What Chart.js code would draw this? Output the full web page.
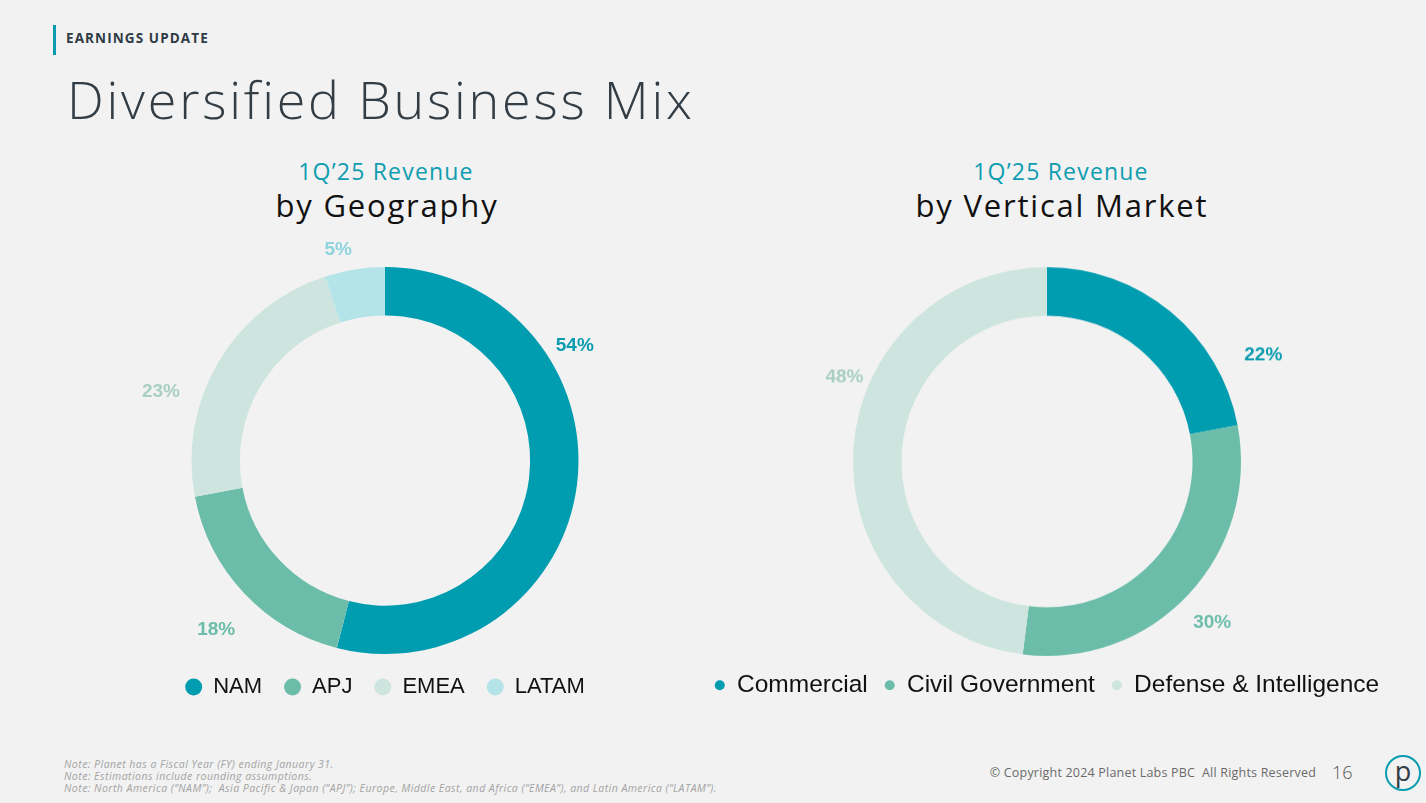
<!DOCTYPE html>
<html>
<head>
<meta charset="utf-8">
<script src="https://cdn.jsdelivr.net/npm/chart.js"></script>
<style>
  html, body { margin: 0; padding: 0; }
  body { width: 1426px; height: 803px; background: #f2f2f2; position: relative; overflow: hidden; font-family: "Open Sans", sans-serif; }
  .abs { position: absolute; white-space: nowrap; line-height: 1; }
  .bar { position: absolute; left: 53px; top: 25px; width: 3px; height: 30px; background: #0a9cb0; }
  .kicker { left: 66px; top: 32px; font-size: 13.5px; font-weight: 700; color: #2f3b45; letter-spacing: 1.1px; }
  .title { left: 67px; top: 73px; font-size: 52px; font-weight: 300; color: #333d45; letter-spacing: 2.8px; }
  .sub1 { width: 400px; text-align: center; font-size: 23px; color: #0e9db0; top: 160px; letter-spacing: 1.2px; }
  .sub2 { width: 400px; text-align: center; font-size: 31px; color: #111; top: 189.5px; letter-spacing: 1.8px; }
  .chart-box { position: absolute; }
  .notes { left: 64px; top: 758px; font-size: 10.5px; font-style: italic; color: #a3a3a3; line-height: 12px; letter-spacing: 0.46px; }
  .copy { right: 110px; top: 767px; font-size: 12.5px; color: #6a6a6a; letter-spacing: 0.2px; }
  .page { left: 1332px; top: 763px; font-size: 18px; font-weight: 300; color: #555; }
  .logo { position: absolute; left: 1385px; top: 755px; width: 32px; height: 32px; border: 2px solid #0a9cb0; border-radius: 50%; text-align: center; font-size: 27px; line-height: 28px; color: #333d45; }
</style>
</head>
<body>
<div class="bar"></div>
<div class="abs kicker">EARNINGS UPDATE</div>
<div class="abs title">Diversified Business Mix</div>

<div class="abs sub1" style="left:186px">1Q’25 Revenue</div>
<div class="abs sub2" style="left:187px">by Geography</div>
<div class="abs sub1" style="left:861px">1Q’25 Revenue</div>
<div class="abs sub2" style="left:862px">by Vertical Market</div>

<div class="chart-box" style="left:84px; top:200px; width:602px; height:508px;"><canvas id="geoChart"></canvas></div>
<div class="chart-box" style="left:697px; top:200px; width:700px; height:506.5px;"><canvas id="marketChart"></canvas></div>

<div class="abs notes">Note: Planet has a Fiscal Year (FY) ending January 31.<br>Note: Estimations include rounding assumptions.<br>Note: North America (“NAM”);&nbsp; Asia Pacific &amp; Japan (“APJ”); Europe, Middle East, and Africa (“EMEA”), and Latin America (“LATAM”).</div>
<div class="abs copy">© Copyright 2024 Planet Labs PBC&nbsp; All Rights Reserved</div>
<div class="abs page">16</div>
<div class="logo">p</div>

<script>
// data
const geoLabels = ['NAM', 'APJ', 'EMEA', 'LATAM'];
const geoValues = [54, 18, 23, 5];
const marketLabels = ['Commercial', 'Civil Government', 'Defense & Intelligence'];
const marketValues = [22, 30, 48];

const geoColors = ['#009caf', '#6bbda9', '#cde5de', '#b5e4e8'];
const geoLabelColors = ['#0a9cb0', '#6bbda9', '#a9cfc3', '#8ed3de'];
const marketColors = ['#009caf', '#6bbda9', '#cde5de'];
const marketLabelColors = ['#0a9cb0', '#6bbda9', '#a9cfc3'];

// percent labels around the ring; t = where along the slice, r = distance from centre
const sliceLabels = {
  id: 'sliceLabels',
  afterDatasetsDraw(chart, args, opts) {
    const meta = chart.getDatasetMeta(0);
    const values = chart.data.datasets[0].data;
    const ctx = chart.ctx;
    ctx.save();
    ctx.font = 'bold 19px "Liberation Sans", Arial, sans-serif';
    ctx.textAlign = 'center';
    ctx.textBaseline = 'middle';
    meta.data.forEach((arc, i) => {
      const p = opts.place[i];
      const a = arc.startAngle + (arc.endAngle - arc.startAngle) * p.t;
      ctx.fillStyle = opts.colors[i];
      ctx.fillText(values[i] + '%', arc.x + Math.cos(a) * p.r, arc.y + Math.sin(a) * p.r + 2);
    });
    ctx.restore();
  }
};

function makeDonut(id, labels, values, colors, labelColors, place, legendFont, dot, gap) {
  return new Chart(document.getElementById(id), {
    type: 'doughnut',
    data: {
      labels: labels,
      datasets: [{
        data: values,
        backgroundColor: colors,
        borderWidth: 0,
        hoverOffset: 0
      }]
    },
    options: {
      responsive: true,
      maintainAspectRatio: false,
      animation: false,
      cutout: '75%',
      layout: { padding: { top: 67 } },
      plugins: {
        legend: {
          position: 'bottom',
          labels: {
            usePointStyle: true,
            pointStyle: 'circle',
            pointStyleWidth: dot,
            boxHeight: dot * 0.707,
            padding: gap,
            color: '#111',
            font: { family: '"Liberation Sans", Arial, sans-serif', size: legendFont }
          }
        },
        tooltip: { enabled: false },
        sliceLabels: { colors: labelColors, place: place }
      }
    },
    plugins: [sliceLabels]
  });
}

makeDonut('geoChart', geoLabels, geoValues, geoColors, geoLabelColors,
  [{ t: 0.30, r: 223 }, { t: 0.475, r: 238 }, { t: 0.343, r: 235 }, { t: 0.31, r: 218 }], 22, 17, 22);

makeDonut('marketChart', marketLabels, marketValues, marketColors, marketLabelColors,
  [{ t: 0.80, r: 242 }, { t: 0.506, r: 229 }, { t: 0.612, r: 220 }], 24.5, 10, 17);
</script>
</body>
</html>
